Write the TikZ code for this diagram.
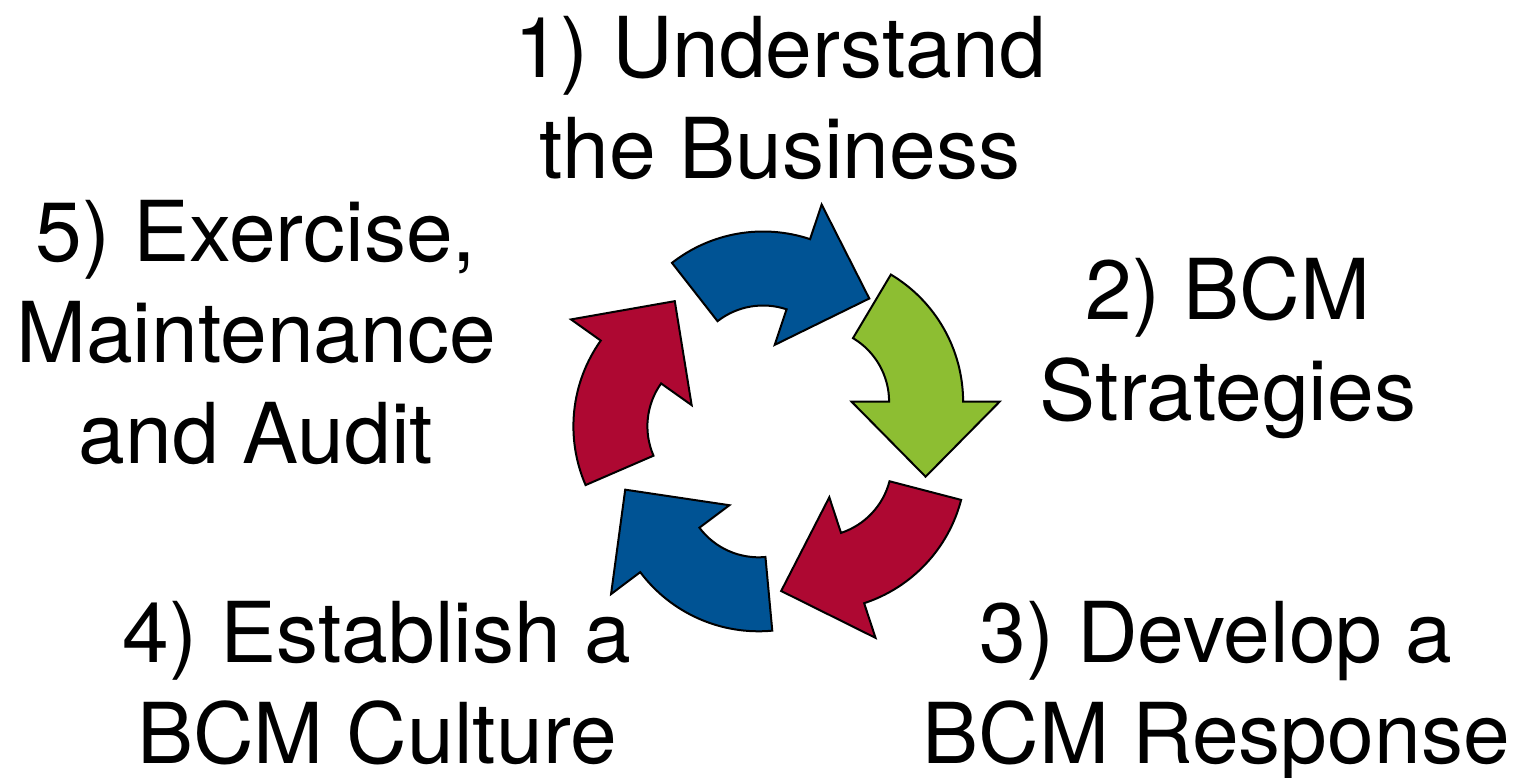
\documentclass[tikz,border=0pt]{standalone}
\usepackage{fontspec}
\setmainfont{TeX Gyre Heros}
\usetikzlibrary{calc}

\definecolor{cycblue}{RGB}{0,83,148}
\definecolor{cycred}{RGB}{174,8,50}
\definecolor{cycgreen}{RGB}{141,190,50}

% One curved block arrow of the cycle.
% #1 fill colour, #2 centre of its arc, #3 tail angle, #4 angle where the head starts
\newcommand\cyclearrow[4]{%
  \begin{scope}[shift={#2}]
    \draw[arrowoutline, fill=#1]
      (#3:148) arc[start angle=#3, end angle=#4, radius=148]
      -- (#4:184.5)
      -- ($(#4:110.5)+(#4-90:75)$)
      -- (#4:36.5)
      -- (#4:74)
      arc[start angle=#4, end angle=#3, radius=74]
      -- cycle;
  \end{scope}}

\begin{document}
\begin{tikzpicture}[x=1pt, y=1pt,
  arrowoutline/.style={draw=black, line width=2pt, line join=miter},
  steplabel/.style={align=center, anchor=base, inner sep=0pt,
    font=\fontsize{84}{101}\selectfont}]
\useasboundingbox (0,0) rectangle (1526,-778);

% the five arrows, clockwise from the top
\cyclearrow{cycblue}{(763.1,-379.5)}{128}{71.5}
\cyclearrow{cycgreen}{(815.1,-401.7)}{59.2}{0}
\cyclearrow{cycred}{(817.9,-462.6)}{-14.6}{-71.8}
\cyclearrow{cycblue}{(758.6,-483.3)}{-84.7}{-143.1}
\cyclearrow{cycred}{(721.4,-426.3)}{203.4}{144.6}

% step labels (anchored at the baseline of their last line)
\node[steplabel] (s1) at (780,-179)  {1) Understand\\the Business};
\node[steplabel] (s2) at (1228,-420) {2) BCM\\Strategies};
\node[steplabel] (s3) at (1216,-763) {3) Develop a\\BCM Response};
\node[steplabel] (s4) at (377,-763)  {4) Establish a\\BCM Culture};
\node[steplabel] (s5) at (256,-463)  {5) Exercise,\\Maintenance\\and Audit};
\end{tikzpicture}
\end{document}
